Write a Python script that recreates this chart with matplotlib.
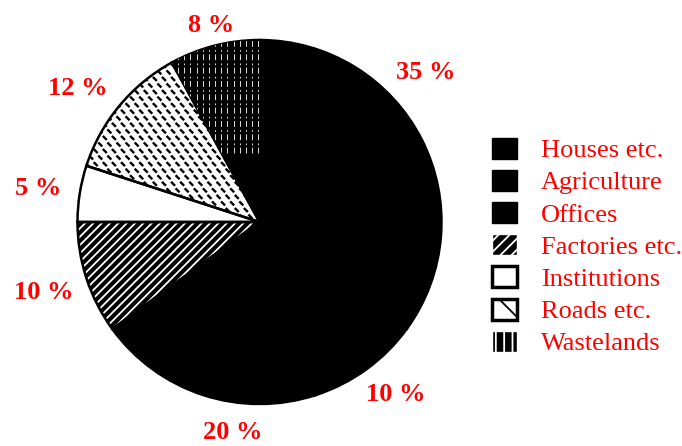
import numpy as np
import matplotlib
matplotlib.use("Agg")
import matplotlib.pyplot as plt
from matplotlib.patches import Patch
from matplotlib.collections import LineCollection

categories = ["Houses etc.", "Agriculture", "Offices", "Factories etc.",
              "Institutions", "Roads etc.", "Wastelands"]
values = [35, 10, 20, 10, 5, 12, 8]
label_texts = ["35 %", "10 %", "20 %", "10 %", "5 %", "12 %", "8 %"]

# layout (label polar positions: angle in degrees, radius relative to pie)
label_polar = [(42, 1.23), (-51.7, 1.21), (-97.3, 1.165), (198.1, 1.25),
               (171.3, 1.23), (143.7, 1.24), (104, 1.11)]

plt.rcParams['hatch.linewidth'] = 1.3
serif = ['Liberation Serif', 'DejaVu Serif']

W, H = 682, 446
fig = plt.figure(figsize=(W / 100, H / 100), dpi=100)
cx, cy, R = 259.5, 222, 182
ax = fig.add_axes([(cx - R) / W, (H - cy - R) / H, 2 * R / W, 2 * R / H])

face = ['black', 'black', 'black', 'black', 'white', 'white', 'black']
wedges, _ = ax.pie(values, startangle=90, counterclock=False, colors=face,
                   wedgeprops=dict(linewidth=0))
# Factories: white diagonal hatch on black
wedges[3].set_hatch('////')
wedges[3].set_edgecolor('white')

# Wastelands: thin white vertical streaks
vsegs = [[(x, 0.38), (x, 1.02)] for x in np.arange(-0.55, 0.0, 0.034)]
vlc = LineCollection(vsegs, colors='white', linewidths=0.6,
                     linestyles=(0, (7, 3, 2, 4)))
ax.add_collection(vlc)
vlc.set_clip_path(wedges[6])

# Roads: dashed diamond-plate texture
sx, sy = 0.05, 0.036
segs = []
for j, yy in enumerate(np.arange(-1.05, 1.05, sy)):
    off = (j % 2) * sx / 2
    for xx in np.arange(-1.05, 1.05, sx):
        x0 = xx + off
        segs.append([(x0 - 0.011, yy + 0.011), (x0 + 0.011, yy - 0.011)])
lc = LineCollection(segs, colors='black', linewidths=1.7, capstyle='butt')
ax.add_collection(lc)
lc.set_clip_path(wedges[5])

# outlines
ax.pie(values, startangle=90, counterclock=False,
       wedgeprops=dict(fill=False, edgecolor='black', linewidth=1.8))
ax.set_xlim(-1, 1)
ax.set_ylim(-1, 1)
ax.set_aspect('equal')
ax.axis('off')

for txt, (ang, r) in zip(label_texts, label_polar):
    a = np.deg2rad(ang)
    ax.text(r * np.cos(a), r * np.sin(a), txt, ha='center', va='center',
            color='red', fontsize=19, fontweight='bold', family=serif,
            clip_on=False)

handles = [
    Patch(facecolor='black', edgecolor='black'),
    Patch(facecolor='black', edgecolor='black'),
    Patch(facecolor='black', edgecolor='black'),
    Patch(facecolor='black', edgecolor='white', hatch='///'),
    Patch(facecolor='white', edgecolor='black', linewidth=2.5),
    Patch(facecolor='white', edgecolor='black', linewidth=2.5, hatch='\\'),
    Patch(facecolor='black', edgecolor='white', hatch='||'),
]
leg = fig.legend(handles, categories, loc='center left',
                 bbox_to_anchor=(492 / W, 1 - 246.5 / H), frameon=False,
                 prop={'family': serif, 'size': 19}, handlelength=0.95,
                 handleheight=0.85, handletextpad=0.9, labelspacing=0.285,
                 borderpad=0, borderaxespad=0)
for t in leg.get_texts():
    t.set_color('red')

fig.savefig('out.png', dpi=100)
